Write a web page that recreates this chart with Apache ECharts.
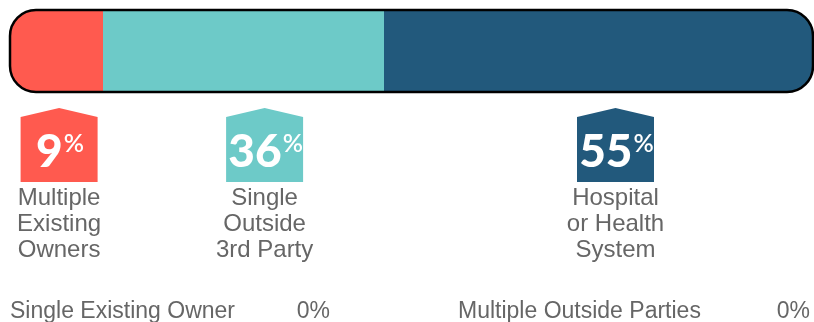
<!DOCTYPE html>
<html>
<head>
<meta charset="utf-8">
<script src="https://cdn.jsdelivr.net/npm/echarts@6/dist/echarts.min.js"></script>
<style>
  html, body { margin: 0; padding: 0; background: #fff; }
  #chart { width: 814px; height: 322px; }
</style>
</head>
<body>
<div id="chart"></div>
<script>
// Ownership shares shown in the bar
const categories = ['Multiple\nExisting\nOwners', 'Single\nOutside\n3rd Party', 'Hospital\nor Health\nSystem'];
const shares = [9, 36, 55];

// Categories with no share, listed underneath
const zeroCategories = ['Single Existing Owner', 'Multiple Outside Parties'];
const zeroShares = [0, 0];

// Styling / layout
const colors = ['#FF5A4F', '#6DCAC8', '#22597C'];
const tagShift = [-9, 21, 17];          // horizontal nudge of each tag from its segment middle (px)
const CAP = 23;                          // rounded end cap drawn left of the value origin (px)
const RADIUS = 26;
const TEXT_FONT = '"Liberation Sans", Arial, sans-serif';
const NUM_FONT = 'Lato, "Open Sans", sans-serif';
const zeroRowLayout = [
  { labelX: 10, valueX: 330 },
  { labelX: 458, valueX: 810 }
];

// Segment bounds from cumulative shares
const segments = [];
let acc = 0;
shares.forEach((v, i) => { segments.push([acc, acc + v, i]); acc += v; });
const total = acc;
const tagData = segments.map(s => [(s[0] + s[1]) / 2, s[2]]);

const chart = echarts.init(document.getElementById('chart'));

chart.setOption({
  animation: false,
  grid: { left: 33, right: 1, top: 10, height: 82 },
  xAxis: { type: 'value', min: 0, max: total, show: false },
  yAxis: { type: 'category', data: ['ownership'], show: false },
  series: [
    {
      // stacked segments of the capsule bar
      type: 'custom',
      data: segments,
      encode: { x: [0, 1] },
      z: 2,
      renderItem(params, api) {
        const cs = params.coordSys;
        const idx = api.value(2);
        let x0 = api.coord([api.value(0), 0])[0];
        let x1 = api.coord([api.value(1), 0])[0];
        let r = 0;
        if (idx === 0) { x0 = cs.x - CAP; r = [RADIUS, 0, 0, RADIUS]; }
        if (idx === shares.length - 1) { r = [0, RADIUS, RADIUS, 0]; }
        return {
          type: 'rect',
          shape: { x: Math.round(x0), y: cs.y, width: Math.round(x1) - Math.round(x0), height: cs.height, r: r },
          style: { fill: colors[idx] }
        };
      }
    },
    {
      // black outline around the whole bar
      type: 'custom',
      data: [[0, total]],
      encode: { x: [0, 1] },
      z: 3,
      renderItem(params, api) {
        const cs = params.coordSys;
        const x0 = api.coord([api.value(0), 0])[0] - CAP;
        const x1 = api.coord([api.value(1), 0])[0];
        return {
          type: 'rect',
          shape: { x: x0, y: cs.y, width: x1 - x0, height: cs.height, r: RADIUS },
          style: { fill: 'none', stroke: '#000', lineWidth: 2.5 }
        };
      }
    },
    {
      // house-shaped value tags with their category names
      type: 'custom',
      data: tagData,
      encode: { x: 0 },
      z: 4,
      renderItem(params, api) {
        const cs = params.coordSys;
        const idx = api.value(1);
        const cx = api.coord([api.value(0), 0])[0] + tagShift[idx];
        const base = cs.y + cs.height;
        const hw = 38.5;
        return {
          type: 'group',
          children: [
            {
              type: 'polygon',
              shape: {
                points: [
                  [cx - hw, base + 25], [cx, base + 16], [cx + hw, base + 25],
                  [cx + hw, base + 90], [cx - hw, base + 90]
                ]
              },
              style: { fill: colors[idx] }
            },
            {
              type: 'text',
              x: cx + 1,
              y: base + 60,
              style: {
                text: '{n|' + shares[idx] + '}{p|%}',
                align: 'center',
                verticalAlign: 'middle',
                rich: {
                  n: { fontFamily: NUM_FONT, fontWeight: 900, fontSize: 46, fill: '#fff', lineHeight: 42 },
                  p: { fontFamily: NUM_FONT, fontWeight: 600, fontSize: 25, fill: '#fff', lineHeight: 42, verticalAlign: 'top', padding: [0, 0, 0, 1] }
                }
              }
            },
            {
              type: 'text',
              x: cx,
              y: base + 93,
              style: {
                text: categories[idx],
                align: 'center',
                verticalAlign: 'top',
                fontFamily: TEXT_FONT,
                fontSize: 24,
                lineHeight: 26,
                fill: '#666'
              }
            }
          ]
        };
      }
    }
  ],
  graphic: zeroCategories.flatMap((name, i) => [
    {
      type: 'text',
      x: zeroRowLayout[i].labelX,
      y: 312,
      style: { text: name, align: 'left', verticalAlign: 'middle', font: '23px ' + TEXT_FONT, fill: '#666' }
    },
    {
      type: 'text',
      x: zeroRowLayout[i].valueX,
      y: 312,
      style: { text: zeroShares[i] + '%', align: 'right', verticalAlign: 'middle', font: '23px ' + TEXT_FONT, fill: '#666' }
    }
  ])
});
</script>
</body>
</html>
